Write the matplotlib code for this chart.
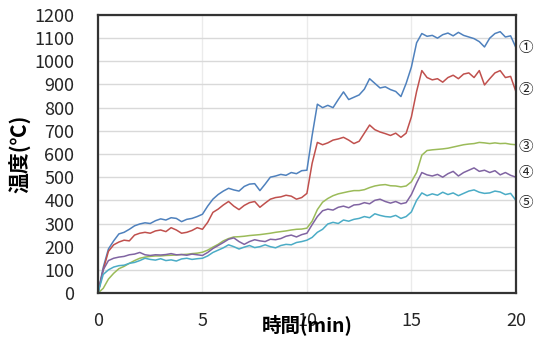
import numpy as np
import matplotlib
matplotlib.use("Agg")
from matplotlib import pyplot as plt

plt.rcParams['font.family'] = ['Noto Sans CJK JP', 'DejaVu Sans']

# sampling every 0.25 min
t = np.linspace(0, 20, 81)

temp1 = [0, 110, 190, 225, 255, 262, 275, 290, 298, 303, 300, 312, 320, 315, 325, 322,
         308, 318, 322, 330, 340, 375, 405, 425, 440, 452, 445, 440, 460, 470, 472, 442,
         470, 500, 505, 512, 508, 520, 515, 528, 530, 680, 815, 800, 810, 800, 835, 868,
         835, 845, 855, 880, 925, 905, 885, 890, 878, 870, 848, 905, 975, 1080, 1120, 1108,
         1112, 1100, 1115, 1122, 1110, 1125, 1112, 1105, 1098, 1085, 1062, 1100, 1120, 1128,
         1105, 1110, 1060]
temp2 = [0, 100, 180, 208, 220, 228, 225, 250, 258, 262, 258, 268, 272, 265, 282, 272,
         258, 262, 270, 282, 275, 305, 348, 362, 380, 395, 375, 360, 378, 390, 395, 370,
         388, 405, 412, 415, 422, 418, 405, 412, 430, 560, 650, 640, 648, 660, 665, 672,
         660, 645, 655, 690, 725, 705, 695, 688, 680, 690, 672, 690, 760, 870, 960, 930,
         920, 925, 910, 930, 940, 925, 945, 950, 930, 960, 898, 925, 950, 960, 930, 935, 870]
temp3 = [0, 20, 60, 85, 105, 115, 128, 140, 150, 155, 158, 160, 160, 162, 163, 164,
         166, 167, 170, 172, 176, 185, 198, 210, 225, 235, 242, 243, 245, 248, 250, 252,
         255, 258, 262, 265, 268, 272, 275, 276, 280, 310, 360, 392, 408, 420, 428, 433,
         438, 442, 442, 446, 455, 462, 466, 468, 463, 462, 458, 462, 480, 520, 595, 615,
         618, 620, 622, 625, 630, 635, 640, 643, 645, 650, 648, 645, 648, 645, 646, 642, 640]
temp4 = [0, 100, 140, 150, 155, 158, 165, 168, 175, 165, 162, 165, 164, 166, 170, 165,
         166, 163, 168, 165, 162, 175, 192, 205, 218, 232, 238, 222, 210, 222, 230, 225,
         222, 232, 230, 235, 245, 250, 242, 252, 258, 295, 330, 355, 362, 358, 370, 375,
         368, 380, 382, 390, 385, 400, 405, 395, 388, 395, 385, 390, 425, 475, 520, 510,
         505, 512, 500, 515, 525, 505, 520, 530, 540, 525, 530, 520, 528, 510, 520, 508, 500]
temp5 = [0, 80, 100, 112, 118, 120, 128, 132, 140, 150, 145, 142, 148, 140, 143, 138,
         147, 150, 145, 148, 150, 160, 175, 185, 195, 208, 200, 190, 198, 205, 196, 200,
         208, 200, 195, 205, 210, 208, 218, 222, 228, 240, 262, 275, 298, 305, 300, 315,
         310, 318, 322, 330, 325, 342, 335, 330, 328, 335, 322, 330, 350, 400, 432, 420,
         428, 422, 435, 425, 432, 420, 430, 440, 445, 435, 430, 432, 440, 436, 425, 430, 400]

series = [temp1, temp2, temp3, temp4, temp5]
colors = ['#4F81BD', '#C0504D', '#9BBB59', '#8064A2', '#4BACC6']
marks = ['①', '②', '③', '④', '⑤']
mark_y = [1057, 876, 630, 518, 388]

fig = plt.figure(figsize=(5.34, 3.47), dpi=100)
ax = fig.add_axes([0.1835, 0.1556, 0.7825, 0.8012])

for y, c in zip(series, colors):
    ax.plot(t, y, color=c, lw=1.1)

# series numbers to the right of the frame
for m, y in zip(marks, mark_y):
    ax.text(20.12, y, m, fontsize=10.5, va='center', ha='left', color='#222222', clip_on=False)

ax.set_xlim(0, 20)
ax.set_ylim(0, 1200)
ax.set_xticks([0, 5, 10, 15, 20])
ax.set_yticks(np.arange(0, 1201, 100))
ax.grid(True, axis='y', color='#D9D9D9', lw=1)
ax.grid(True, axis='x', color='#EBEBEB', lw=1)
ax.set_axisbelow(True)
ax.tick_params(length=0, labelsize=13, colors='#262626')
ax.tick_params(axis='y', pad=17)
ax.tick_params(axis='x', pad=14)
for s in ax.spines.values():
    s.set_color('#333333')
    s.set_linewidth(1.6)

ax.set_xlabel('時間(min)', fontsize=14, fontweight='bold', labelpad=-12)
ax.set_ylabel('温度(℃)', fontsize=15, fontweight='bold', labelpad=2)

fig.savefig('out.png', dpi=100)
